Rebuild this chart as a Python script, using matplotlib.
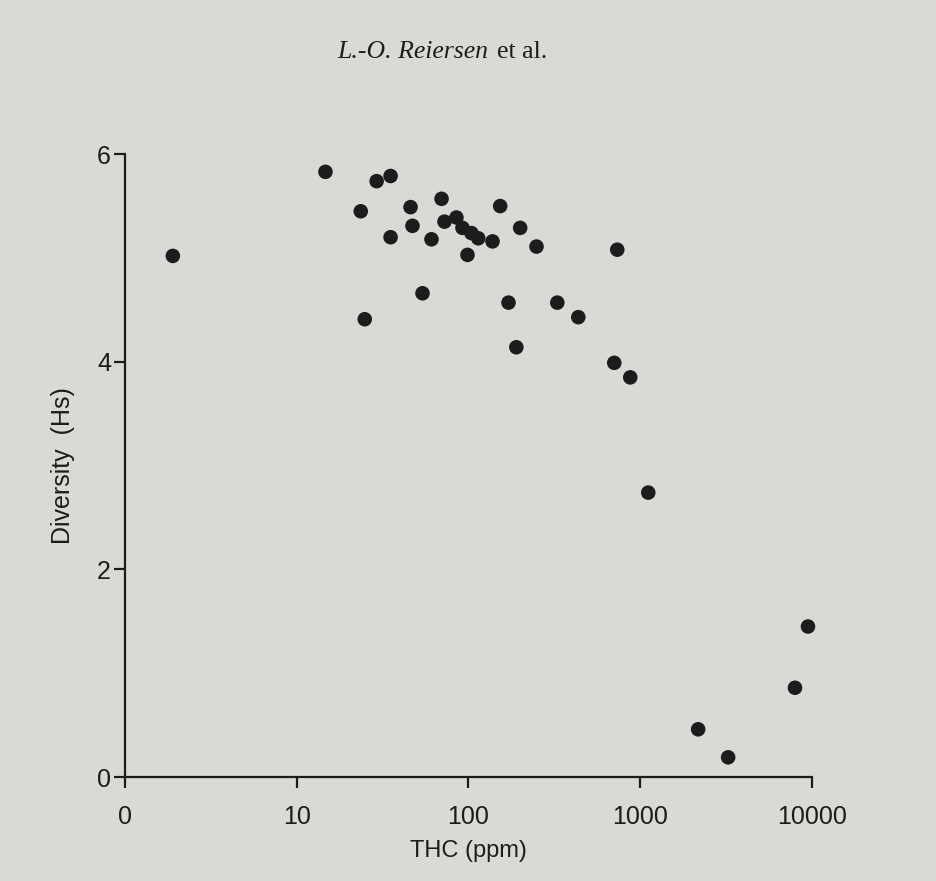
import matplotlib.pyplot as plt
import numpy as np

plt.ioff()

# THC (ppm); the "0" tick sits where 1 would be
thc = [1.9, 14.7, 23.6, 24.9, 29.2, 35.2, 35.2, 46.0, 47.2, 54.0, 60.9, 69.7,
       72.5, 85.1, 92.3, 98.7, 104, 114, 138, 153, 171, 190, 200, 249, 329,
       436, 735, 706, 875, 1114, 2174, 3250, 7963, 9480]
diversity = [5.02, 5.83, 5.45, 4.41, 5.74, 5.79, 5.20, 5.49, 5.31, 4.66, 5.18, 5.57,
             5.35, 5.39, 5.29, 5.03, 5.24, 5.19, 5.16, 5.50, 4.57, 4.14, 5.29, 5.11, 4.57,
             4.43, 5.08, 3.99, 3.85, 2.74, 0.46, 0.19, 0.86, 1.45]

xticks = [1, 10, 100, 1000, 10000]
xticklabels = ["0", "10", "100", "1000", "10000"]
yticks = [0, 2, 4, 6]

paper = "#d9d9d5"
ink = "#1c1c1c"

fig = plt.figure(figsize=(9.36, 8.81), dpi=100, facecolor=paper)
ax = fig.add_axes([0.1335, 0.118, 0.734, 0.707])
ax.set_facecolor(paper)

ax.scatter(thc, diversity, s=110, color=ink, edgecolors="none", clip_on=False, zorder=3)

ax.set_xscale("log")
ax.set_xlim(1, 10000)
ax.set_ylim(0, 6)
ax.set_xticks(xticks)
ax.set_xticklabels(xticklabels)
ax.xaxis.set_minor_locator(plt.NullLocator())
ax.set_yticks(yticks)

for side in ("top", "right"):
    ax.spines[side].set_visible(False)
for side in ("left", "bottom"):
    ax.spines[side].set_color(ink)
    ax.spines[side].set_linewidth(1.6)

ax.tick_params(axis="both", direction="out", length=8, width=1.6, color=ink,
               labelcolor=ink, labelsize=18)
ax.tick_params(axis="x", pad=12)
ax.tick_params(axis="y", pad=2)
for lab in ax.get_xticklabels() + ax.get_yticklabels():
    lab.set_family("Liberation Sans")

ax.set_xlabel("THC (ppm)", fontsize=17, family="Liberation Sans", color=ink, labelpad=8)
ax.set_ylabel("Diversity  (Hs)", fontsize=18, family="Liberation Sans", color=ink, labelpad=16)

# running head of the book page
fig.text(0.522, 0.941, "L.-O. Reiersen", family="Liberation Serif", style="italic",
         fontsize=18.5, color=ink, ha="right", va="center")
fig.text(0.531, 0.941, "et al.", family="Liberation Serif", fontsize=18.5,
         color=ink, ha="left", va="center")

fig.savefig("out.png", dpi=100, facecolor=paper)
